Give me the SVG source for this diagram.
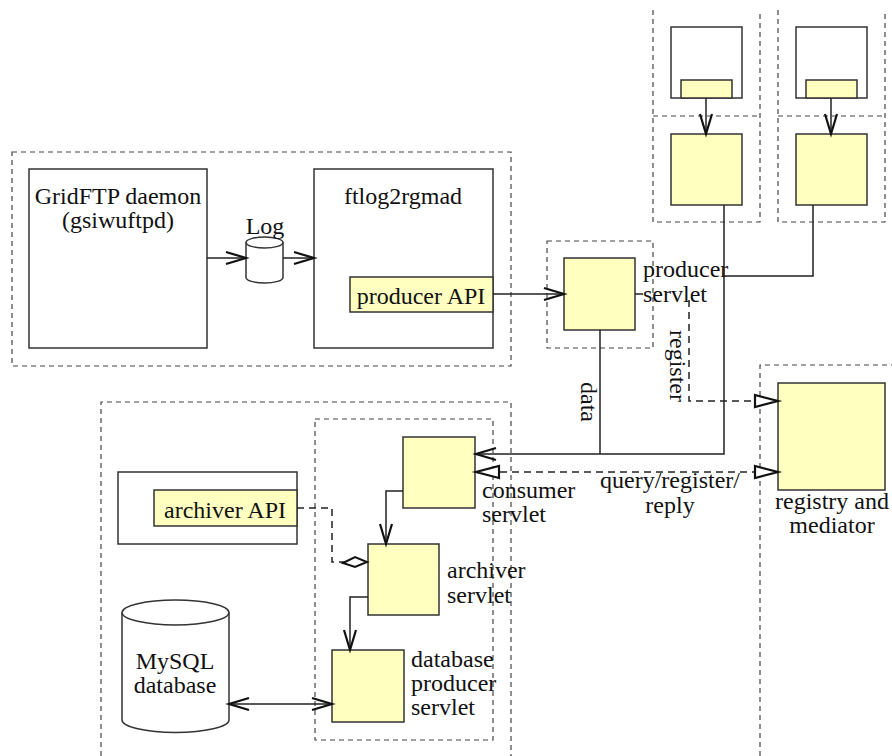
<svg xmlns="http://www.w3.org/2000/svg" width="892" height="756" viewBox="0 0 892 756">
<style>
text{font-family:"Liberation Serif","Times New Roman",serif;font-size:24px;fill:#111}
.c{text-anchor:middle}
.box{fill:#fff;stroke:#333;stroke-width:1.5}
.y{fill:#ffffc0;stroke:#333;stroke-width:1.5}
.dash{fill:none;stroke:#444;stroke-width:1.2;stroke-dasharray:5,4}
.ln{fill:none;stroke:#222;stroke-width:1.5}
.dl{fill:none;stroke:#222;stroke-width:1.5;stroke-dasharray:7,5}
</style>
<defs>
<marker id="vee" markerUnits="userSpaceOnUse" viewBox="-24 -9 26 18" refX="0" refY="0" markerWidth="26" markerHeight="18" orient="auto-start-reverse" overflow="visible">
<path d="M-20,-6 L0,0 L-20,6" fill="none" stroke="#111" stroke-width="2.2"/>
</marker>
<marker id="tri" markerUnits="userSpaceOnUse" viewBox="-26 -9 28 18" refX="0" refY="0" markerWidth="28" markerHeight="18" orient="auto-start-reverse" overflow="visible">
<path d="M-23,-6 L0,0 L-23,6 Z" fill="#fff" stroke="#111" stroke-width="2.2"/>
</marker>
<marker id="dia" markerUnits="userSpaceOnUse" viewBox="-26 -9 28 18" refX="0" refY="0" markerWidth="28" markerHeight="18" orient="auto" overflow="visible">
<path d="M-24,1 L-12,-5 L0,0 L-12,5 Z" fill="#fff" stroke="#111" stroke-width="2"/>
</marker>
</defs>

<g id="group-frames">
<rect x="12" y="152" width="499" height="214" class="dash"/>
<path d="M101,756 V402 H511 V756" class="dash"/>
<rect x="315" y="419" width="178" height="321" class="dash"/>
<rect x="547" y="241" width="106" height="107" class="dash"/>
<path d="M653,10 V222 H760 V10 M653,116 H760" class="dash"/>
<path d="M778,10 V222 H885 V10 M778,116 H885" class="dash"/>
<path d="M760,756 V365 H892" class="dash"/>
</g>

<g id="gridftp">
<rect x="29" y="169" width="178" height="179" class="box"/>
<text class="c" x="118" y="204">GridFTP daemon</text>
<text class="c" x="118" y="228">(gsiwuftpd)</text>
</g>

<g id="log">
<path d="M246,242.5 V277.5 A18.5,5.5 0 0 0 283,277.5 V242.5" fill="#fff" stroke="#333" stroke-width="1.5"/>
<ellipse cx="264.5" cy="242.5" rx="18.5" ry="5.5" fill="#fff" stroke="#333" stroke-width="1.5"/>
<text class="c" x="265" y="234">Log</text>
</g>

<g id="ftlog2rgmad">
<rect x="314" y="169" width="179" height="179" class="box"/>
<text class="c" x="403" y="204">ftlog2rgmad</text>
</g>

<g id="producer-api">
<rect x="350" y="277" width="143" height="35" class="y"/>
<text class="c" x="421" y="304">producer API</text>
</g>

<g id="producer-servlet">
<rect x="564" y="258" width="71" height="72" class="y"/>
<text x="643" y="277">producer</text>
<text x="643" y="302">servlet</text>
</g>

<g id="source1">
<rect x="671" y="27" width="71" height="71" class="box"/>
<rect x="681" y="80" width="51" height="18" class="y"/>
<rect x="671" y="134" width="71" height="71" class="y"/>
</g>

<g id="source2">
<rect x="796" y="27" width="71" height="71" class="box"/>
<rect x="806" y="80" width="51" height="18" class="y"/>
<rect x="796" y="134" width="71" height="71" class="y"/>
</g>

<g id="registry">
<rect x="778" y="383" width="107" height="107" class="y"/>
<text class="c" x="832" y="509">registry and</text>
<text class="c" x="832" y="533">mediator</text>
</g>

<g id="consumer-servlet">
<rect x="403" y="437" width="72" height="71" class="y"/>
<text x="482" y="498">consumer</text>
<text x="482" y="522">servlet</text>
</g>

<g id="archiver-app">
<rect x="118" y="472" width="179" height="72" class="box"/>
<rect x="154" y="490" width="143" height="36" class="y"/>
<text class="c" x="225" y="518">archiver API</text>
</g>

<g id="archiver-servlet">
<rect x="368" y="544" width="71" height="71" class="y"/>
<text x="447" y="578">archiver</text>
<text x="447" y="603">servlet</text>
</g>

<g id="db-producer-servlet">
<rect x="332" y="650" width="72" height="72" class="y"/>
<text x="411" y="667">database</text>
<text x="411" y="691">producer</text>
<text x="411" y="715">servlet</text>
</g>

<g id="mysql">
<path d="M122,612.5 V720 A53.5,12.5 0 0 0 229,720 V612.5" fill="#fff" stroke="#333" stroke-width="1.5"/>
<ellipse cx="175.5" cy="612.5" rx="53.5" ry="12.5" fill="#fff" stroke="#333" stroke-width="1.5"/>
<text class="c" x="175" y="669">MySQL</text>
<text class="c" x="175" y="693">database</text>
</g>

<g id="connectors">
<path d="M207,258 H246" class="ln" marker-end="url(#vee)"/>
<path d="M283,258 H314" class="ln" marker-end="url(#vee)"/>
<path d="M493,294 H564" class="ln" marker-end="url(#vee)"/>
<path d="M706,98 V134" class="ln" marker-end="url(#vee)"/>
<path d="M831,98 V134" class="ln" marker-end="url(#vee)"/>
<path d="M813,205 V276 H724" class="ln"/>
<path d="M724,205 V454 H476" class="ln" marker-end="url(#vee)"/>
<path d="M600,330 V454" class="ln"/>
<text transform="translate(581,402) rotate(90)" class="c">data</text>
<path d="M635,294 H643" class="ln"/>
<path d="M689,300 V401 H778" class="dl" marker-end="url(#tri)"/>
<text transform="translate(670,366) rotate(90)" class="c">register</text>
<path d="M476,472 H778" class="dl" marker-start="url(#tri)" marker-end="url(#tri)"/>
<text class="c" x="670" y="488">query/register/</text>
<text class="c" x="670" y="513">reply</text>
<path d="M403,491 H386 V544" class="ln" marker-end="url(#vee)"/>
<path d="M368,597 H350 V650" class="ln" marker-end="url(#vee)"/>
<path d="M297,508 H332 V562 H367" class="dl" marker-end="url(#dia)"/>
<path d="M229,704 H332" class="ln" marker-start="url(#vee)" marker-end="url(#vee)"/>
</g>
</svg>
